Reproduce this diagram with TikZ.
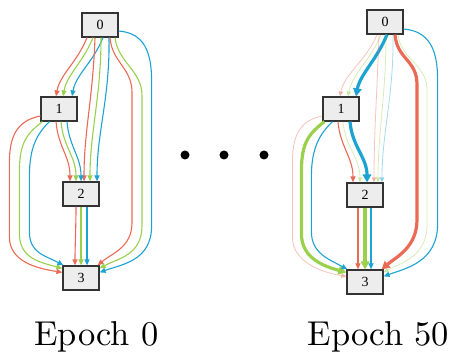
\documentclass[tikz,border=0pt]{standalone}
\usepackage{fontspec}
\newfontfamily\graphfont{Liberation Serif}
\newfontfamily\epochfont{lmroman10-regular}[Extension=.otf]
\usetikzlibrary{arrows.meta}
\definecolor{linkred}{RGB}{234,106,86}
\definecolor{linkgreen}{RGB}{154,208,76}
\definecolor{linkblue}{RGB}{28,163,209}
\tikzstyle{layerbox}=[draw=black!80,fill=black!7,line width=1.2pt,minimum width=36pt,minimum height=24pt,inner sep=0pt,font=\graphfont\fontsize{14}{16}\selectfont]
\tikzstyle{link}=[line width=1.1pt,-{Triangle[length=6pt,width=5pt]}]
\tikzstyle{faint}=[line width=0.8pt,opacity=0.4,-{Triangle[length=5pt,width=4.5pt]}]
\tikzstyle{heavy}=[line width=3.2pt,-{Triangle[length=8pt,width=8.5pt]}]
\tikzstyle{dotnode}=[circle,fill=black,inner sep=0pt,minimum size=9pt]
\tikzstyle{epochlabel}=[anchor=base,inner sep=0pt,font=\epochfont\fontsize{34.5}{40}\selectfont]

\begin{document}
\begin{tikzpicture}[x=1pt,y=-1pt]
\useasboundingbox (0,0) rectangle (455,352);

% epoch 0: every link has the same weight
\node[layerbox] (a0) at (100,25) {0};
\node[layerbox] (a1) at (59,109) {1};
\node[layerbox] (a2) at (81,194) {2};
\node[layerbox] (a3) at (81,278) {3};

\draw[link,linkred] ([xshift=-13pt]a0.south) .. controls +(-10,25) and +(4,-22) .. ([xshift=-3pt]a1.north);
\draw[link,linkgreen] ([xshift=-7pt]a0.south) .. controls +(-10,25) and +(4,-22) .. ([xshift=4pt]a1.north);
\draw[link,linkblue] ([xshift=3pt]a0.south) .. controls +(-10,25) and +(4,-22) .. ([xshift=13pt]a1.north);

\draw[link,linkred] ([xshift=-5pt]a0.south) .. controls +(-2,60) and +(0,-50) .. ([xshift=3pt]a2.north);
\draw[link,linkgreen] ([xshift=1pt]a0.south) .. controls +(0,60) and +(0,-50) .. ([xshift=9pt]a2.north);
\draw[link,linkblue] ([xshift=9pt]a0.south) .. controls +(1,60) and +(0,-50) .. ([xshift=16pt]a2.north);

\draw[link,linkred] ([xshift=10pt]a0.south) .. controls +(2,25) and +(0,-25) .. ++(22,55) -- ++(0,130) .. controls +(0,25) and +(14,-12) .. ([xshift=-2pt]a3.north east);
\draw[link,linkgreen] ([xshift=15pt]a0.south) .. controls +(3,25) and +(0,-25) .. ++(27,58) -- ++(0,130) .. controls +(0,30) and +(18,-10) .. ([yshift=-3pt]a3.north east);
\draw[link,linkblue] ([yshift=-6pt]a0.east) .. controls +(25,2) and +(0,-30) .. ++(33,50) -- ++(0,145) .. controls +(0,35) and +(22,-8) .. ([yshift=-7pt]a3.north east);

\draw[link,linkred] ([xshift=-3pt]a1.south) .. controls +(2,25) and +(0,-25) .. ([xshift=-11pt]a2.north);
\draw[link,linkgreen] ([xshift=2pt]a1.south) .. controls +(2,25) and +(0,-25) .. ([xshift=-5pt]a2.north);
\draw[link,linkblue] ([xshift=8pt]a1.south) .. controls +(2,25) and +(0,-25) .. (a2.north);

\draw[link,linkred] ([yshift=-7pt]a1.west) .. controls +(-20,4) and +(0,-30) .. ++(-31,46) -- ++(0,75) .. controls +(0,25) and +(-25,-4) .. ([yshift=-7pt]a3.north west);
\draw[link,linkgreen] ([xshift=2pt]a1.south west) .. controls +(-15,12) and +(0,-30) .. ++(-23,50) -- ++(0,62) .. controls +(0,25) and +(-22,-6) .. ([yshift=-3pt]a3.north west);
\draw[link,linkblue] ([xshift=9pt]a1.south west) .. controls +(-12,12) and +(0,-30) .. ++(-20,55) -- ++(0,55) .. controls +(0,22) and +(-18,-10) .. ([xshift=1pt]a3.north west);

\draw[link,linkred] ([xshift=-5pt]a2.south) .. controls +(0,20) and +(0,-20) .. ([xshift=-6pt]a3.north);
\draw[link,linkgreen] (a2.south) .. controls +(0,20) and +(0,-20) .. (a3.north);
\draw[link,linkblue] ([xshift=6pt]a2.south) .. controls +(0,20) and +(0,-20) .. ([xshift=6pt]a3.north);

% the dots in between
\foreach \x in {185,224,264}
  \node[dotnode] (dot\x) at (\x,155) {};

% epoch 50: a few links carry the weight
\node[layerbox] (b0) at (385,22) {0};
\node[layerbox] (b1) at (341,109) {1};
\node[layerbox] (b2) at (365,195) {2};
\node[layerbox] (b3) at (365,282) {3};

\draw[faint,linkred] ([xshift=-8pt]b0.south) .. controls +(-10,25) and +(4,-22) .. ([xshift=-1pt]b1.north);
\draw[faint,linkgreen] ([xshift=-4pt]b0.south) .. controls +(-10,25) and +(4,-22) .. ([xshift=7pt]b1.north);
\draw[heavy,linkblue] ([xshift=2pt]b0.south) .. controls +(-10,25) and +(4,-22) .. ([xshift=15pt]b1.north);

\draw[faint,linkred] ([xshift=-6pt]b0.south) .. controls +(-2,60) and +(0,-50) .. ([xshift=9pt]b2.north);
\draw[faint,linkgreen] ([xshift=1pt]b0.south) .. controls +(0,60) and +(0,-50) .. ([xshift=13pt]b2.north);
\draw[faint,linkblue] ([xshift=8pt]b0.south) .. controls +(1,60) and +(0,-50) .. ([xshift=17pt]b2.north);

\draw[heavy,linkred] ([xshift=10pt]b0.south) .. controls +(2,25) and +(0,-25) .. ++(22,50) -- ++(0,135) .. controls +(0,28) and +(14,-12) .. ([xshift=-2pt]b3.north east);
\draw[faint,linkgreen] ([xshift=13pt]b0.south) .. controls +(3,25) and +(0,-25) .. ++(29,55) -- ++(0,135) .. controls +(0,32) and +(18,-10) .. ([yshift=-3pt]b3.north east);
\draw[link,linkblue] ([yshift=-7pt]b0.east) .. controls +(25,2) and +(0,-30) .. ++(34,50) -- ++(0,145) .. controls +(0,38) and +(22,-8) .. ([yshift=-7pt]b3.north east);

\draw[link,linkred] ([xshift=-3pt]b1.south) .. controls +(2,25) and +(0,-25) .. ([xshift=-12pt]b2.north);
\draw[faint,linkgreen] ([xshift=2pt]b1.south) .. controls +(2,25) and +(0,-25) .. ([xshift=-5pt]b2.north);
\draw[heavy,linkblue] ([xshift=9pt]b1.south) .. controls +(2,25) and +(0,-25) .. ([xshift=2pt]b2.north);

\draw[faint,linkred] ([yshift=-7pt]b1.west) .. controls +(-20,4) and +(0,-30) .. ++(-30,46) -- ++(0,75) .. controls +(0,25) and +(-25,-4) .. ([yshift=-7pt]b3.north west);
\draw[heavy,linkgreen] ([xshift=2pt]b1.south west) .. controls +(-15,12) and +(0,-30) .. ++(-23,50) -- ++(0,62) .. controls +(0,25) and +(-22,-6) .. ([yshift=-3pt]b3.north west);
\draw[link,linkblue] ([xshift=10pt]b1.south west) .. controls +(-12,12) and +(0,-30) .. ++(-21,55) -- ++(0,55) .. controls +(0,22) and +(-18,-10) .. ([xshift=1pt]b3.north west);

\draw[link,linkred] ([xshift=-7pt]b2.south) .. controls +(0,20) and +(0,-20) .. ([xshift=-7pt]b3.north);
\draw[heavy,linkgreen] (b2.south) .. controls +(0,20) and +(0,-20) .. (b3.north);
\draw[link,linkblue] ([xshift=6pt]b2.south) .. controls +(0,20) and +(0,-20) .. ([xshift=6pt]b3.north);

\node[epochlabel] (t0) at (96.5,346) {Epoch 0};
\node[epochlabel] (t50) at (378.5,346) {Epoch 50};
\end{tikzpicture}
\end{document}
